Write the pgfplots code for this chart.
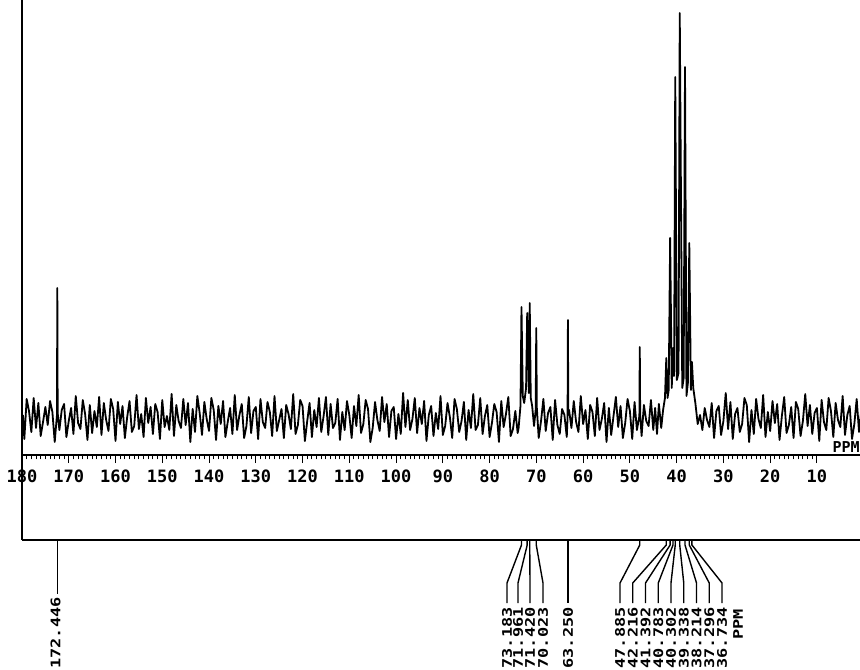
\documentclass[border=0pt]{standalone}
\usepackage{fontspec}
\setmonofont{DejaVu Sans Mono}
\newfontfamily\stretchmono{DejaVu Sans Mono}[FakeStretch=1.28]
\usepackage{pgfplots}
\pgfplotsset{compat=1.18}
\newcommand{\lbl}{\stretchmono\bfseries\fontsize{6.6}{7}\selectfont}
\newcommand{\ppmfont}{\ttfamily\bfseries\fontsize{7.5}{8}\selectfont}
\begin{document}
\begin{tikzpicture}
\path[use as bounding box] (0,0) rectangle (430pt,334.5pt);
\begin{axis}[
  at={(11pt,107pt)}, anchor=south west,
  scale only axis, width=419pt, height=227.5pt,
  xmin=0.79, xmax=180, ymin=-37, ymax=418,
  x dir=reverse,
  axis x line=bottom, axis y line=none,
  axis line style={-, line width=1pt},
  every outer x axis line/.append style={-},
  xtick={10,20,...,180}, minor x tick num=9,
  tick align=outside, major tick length=4pt, minor tick length=2.2pt,
  tick style={line width=0.5pt, black},
  ytick=\empty,
  /pgf/number format/assume math mode=true,
  xticklabel style={font=\ttfamily\bfseries\fontsize{8.5}{9}\selectfont},
]
\addplot[black, line width=0.9pt, line join=round] table[row sep=\\] {
x y\\
0.5 8\\ 1.0 -14\\ 1.5 19\\ 2.0 -6\\ 2.5 -21\\ 3.0 12\\ 3.5 3\\ 4.0 -17\\ 4.5 22\\ 5.0 -9\\
5.5 -2\\ 6.0 15\\ 6.5 -19\\ 7.0 7\\ 7.5 20\\ 8.0 -12\\ 8.5 -4\\ 9.0 18\\ 9.5 -23\\ 10.0 10\\
10.5 5\\ 11.0 -16\\ 11.5 13\\ 12.0 -8\\ 12.5 24\\ 13.0 -3\\ 13.5 -18\\ 14.0 9\\ 14.5 16\\ 15.0 -20\\
15.5 11\\ 16.0 -7\\ 16.5 -15\\ 17.0 21\\ 17.5 2\\ 18.0 -22\\ 18.5 14\\ 19.0 -5\\ 19.5 17\\ 20.0 -13\\
20.5 6\\ 21.0 -19\\ 21.5 23\\ 22.0 -10\\ 22.5 -1\\ 23.0 19\\ 23.5 -16\\ 24.0 8\\ 24.5 -24\\ 25.0 13\\
25.5 20\\ 26.0 -6\\ 26.5 -14\\ 27.0 10\\ 27.5 4\\ 28.0 -21\\ 28.5 16\\ 29.0 -11\\ 29.5 25\\ 30.0 -3\\
30.5 -17\\ 31.0 12\\ 31.5 7\\ 32.0 -20\\ 32.5 15\\ 33.0 -9\\ 33.5 -2\\ 34.0 10\\ 34.5 -12\\ 35.0 3\\
35.5 -6\\ 36.0 15\\ 36.45 30\\ 36.734 56\\ 36.95 28\\ 37.296 175\\ 37.6 35\\ 37.9 22\\ 38.214 351\\ 38.5 40\\ 38.8 30\\ 39.338 405\\ 39.6 45\\ 39.95 38\\ 40.302 341\\ 40.55 42\\ 40.783 70\\ 41.05 30\\ 41.392 180\\ 41.7 28\\ 41.95 20\\ 42.216 60\\ 42.5 20\\ 42.9 8\\ 43.3 -10\\
43.8 14\\ 44.2 -16\\ 44.6 10\\ 45.0 -12\\
45.5 18\\ 46.0 -8\\ 46.5 -3\\ 47.0 13\\ 47.5 -18\\ 47.8 4\\ 47.885 71\\ 47.97 2\\ 48.5 -12\\ 49.0 16\\ 49.5 -21\\ 50.0 7\\
50.5 19\\ 51.0 -5\\ 51.5 -20\\ 52.0 12\\ 52.5 -9\\ 53.0 21\\ 53.5 2\\ 54.0 -17\\ 54.5 10\\ 55.0 -24\\
55.5 15\\ 56.0 -1\\ 56.5 -12\\ 57.0 20\\ 57.5 -18\\ 58.0 6\\ 58.5 13\\ 59.0 -21\\ 59.5 8\\ 60.0 -6\\
60.5 22\\ 61.0 -14\\ 61.5 -4\\ 62.0 17\\ 62.5 -10\\ 63.0 8\\ 63.17 3\\ 63.25 98\\ 63.33 0\\ 63.5 -19\\ 64.0 3\\ 64.5 9\\ 65.0 -16\\
65.5 -7\\ 66.0 18\\ 66.5 -22\\ 67.0 11\\ 67.5 5\\ 68.0 -13\\ 68.5 19\\ 69.0 -3\\ 69.5 -20\\ 69.9 10\\ 70.023 90\\ 70.15 8\\
70.5 -8\\ 70.9 12\\ 71.2 20\\ 71.42 115\\ 71.6 25\\ 71.961 105\\ 72.2 30\\ 72.6 15\\ 72.9 22\\ 73.183 111\\ 73.4 12\\ 73.8 -10\\ 74.0 -15\\ 74.5 7\\ 75.0 -11\\
75.5 -18\\ 76.0 21\\ 76.5 4\\ 77.0 -9\\ 77.5 17\\ 78.0 -24\\ 78.5 6\\ 79.0 14\\ 79.5 -5\\ 80.0 -19\\
80.5 13\\ 81.0 2\\ 81.5 -16\\ 82.0 20\\ 82.5 -7\\ 83.0 -12\\ 83.5 24\\ 84.0 -10\\ 84.5 8\\ 85.0 -22\\
85.5 16\\ 86.0 -3\\ 86.5 -14\\ 87.0 9\\ 87.5 19\\ 88.0 -20\\ 88.5 1\\ 89.0 15\\ 89.5 -8\\ 90.0 -17\\
90.5 22\\ 91.0 -11\\ 91.5 5\\ 92.0 -18\\ 92.5 12\\ 93.0 3\\ 93.5 -23\\ 94.0 17\\ 94.5 -6\\ 95.0 10\\
95.5 -15\\ 96.0 20\\ 96.5 -1\\ 97.0 -12\\ 97.5 18\\ 98.0 -9\\ 98.5 25\\ 99.0 -16\\ 99.5 4\\ 100.0 -21\\
100.5 11\\ 101.0 7\\ 101.5 -19\\ 102.0 14\\ 102.5 -4\\ 103.0 21\\ 103.5 -13\\ 104.0 -2\\ 104.5 16\\ 105.0 -10\\
105.5 -24\\ 106.0 9\\ 106.5 18\\ 107.0 -6\\ 107.5 -15\\ 108.0 23\\ 108.5 -8\\ 109.0 12\\ 109.5 -20\\ 110.0 3\\
110.5 17\\ 111.0 -12\\ 111.5 6\\ 112.0 -22\\ 112.5 19\\ 113.0 -5\\ 113.5 -10\\ 114.0 14\\ 114.5 -17\\ 115.0 21\\
115.5 2\\ 116.0 -14\\ 116.5 20\\ 117.0 -9\\ 117.5 8\\ 118.0 -19\\ 118.5 15\\ 119.0 -3\\ 119.5 -23\\ 120.0 12\\
120.5 18\\ 121.0 -7\\ 121.5 -16\\ 122.0 24\\ 122.5 -11\\ 123.0 4\\ 123.5 13\\ 124.0 -20\\ 124.5 9\\ 125.0 -2\\
125.5 -13\\ 126.0 22\\ 126.5 -18\\ 127.0 6\\ 127.5 16\\ 128.0 -10\\ 128.5 -4\\ 129.0 19\\ 129.5 -21\\ 130.0 11\\
130.5 7\\ 131.0 -15\\ 131.5 21\\ 132.0 -8\\ 132.5 -20\\ 133.0 14\\ 133.5 3\\ 134.0 -12\\ 134.5 23\\ 135.0 -16\\
135.5 10\\ 136.0 -4\\ 136.5 -19\\ 137.0 17\\ 137.5 -6\\ 138.0 12\\ 138.5 -22\\ 139.0 8\\ 139.5 20\\ 140.0 -13\\
140.5 -1\\ 141.0 16\\ 141.5 -17\\ 142.0 5\\ 142.5 22\\ 143.0 -14\\ 143.5 9\\ 144.0 -24\\ 144.5 15\\ 145.0 -7\\
145.5 19\\ 146.0 -10\\ 146.5 -3\\ 147.0 13\\ 147.5 -18\\ 148.0 24\\ 148.5 -12\\ 149.0 2\\ 149.5 -9\\ 150.0 18\\
150.5 -21\\ 151.0 6\\ 151.5 14\\ 152.0 -16\\ 152.5 11\\ 153.0 -5\\ 153.5 20\\ 154.0 -19\\ 154.5 4\\ 155.0 -11\\
155.5 23\\ 156.0 -8\\ 156.5 -14\\ 157.0 17\\ 157.5 1\\ 158.0 -20\\ 158.5 12\\ 159.0 -6\\ 159.5 16\\ 160.0 -23\\
160.5 9\\ 161.0 19\\ 161.5 -13\\ 162.0 -2\\ 162.5 15\\ 163.0 -17\\ 163.5 21\\ 164.0 -9\\ 164.5 7\\ 165.0 -15\\
165.5 13\\ 166.0 -22\\ 166.5 4\\ 167.0 18\\ 167.5 -11\\ 168.0 -5\\ 168.5 22\\ 169.0 -16\\ 169.5 10\\ 170.0 -3\\
170.5 -19\\ 171.0 14\\ 171.5 8\\ 172.0 -12\\ 172.37 5\\ 172.446 130\\ 172.52 3\\ 173.0 -24\\ 173.5 6\\ 174.0 17\\ 174.5 -7\\ 175.0 11\\
175.5 -4\\ 176.0 -18\\ 176.5 15\\ 177.0 -10\\ 177.5 20\\ 178.0 -14\\ 178.5 7\\ 179.0 19\\ 179.5 -21\\ 179.8 3\\
};
\node[anchor=south east, inner sep=0pt, font=\ppmfont] at (axis cs:0.79,-35) {PPM};
\end{axis}
\begin{axis}[
  at={(11pt,0pt)}, anchor=south west,
  scale only axis, width=419pt, height=334.5pt,
  xmin=0.79, xmax=180, ymin=0, ymax=669,
  x dir=reverse, hide axis, clip=false,
]
\draw[line width=0.75pt] (axis cs:180,669) -- (axis cs:180,129);
\draw[line width=1pt] (axis cs:180,129) -- (axis cs:0.79,129);
\begin{scope}[line width=0.7pt]
\draw (axis cs:172.446,129) -- (axis cs:172.446,75);
\draw (axis cs:73.183,129) -- (axis cs:73.183,124) -- (axis cs:76.28,86) -- (axis cs:76.28,66);
\draw (axis cs:71.961,129) -- (axis cs:71.961,124) -- (axis cs:73.93,86) -- (axis cs:73.93,66);
\draw (axis cs:71.420,129) -- (axis cs:71.420,124) -- (axis cs:71.36,86) -- (axis cs:71.36,66);
\draw (axis cs:70.023,129) -- (axis cs:70.023,124) -- (axis cs:68.58,86) -- (axis cs:68.58,66);
\draw (axis cs:63.25,129) -- (axis cs:63.25,66);
\draw (axis cs:47.885,129) -- (axis cs:47.885,124) -- (axis cs:52.11,86) -- (axis cs:52.11,66);
\draw (axis cs:42.216,129) -- (axis cs:42.216,124) -- (axis cs:49.39,86) -- (axis cs:49.39,66);
\draw (axis cs:41.392,129) -- (axis cs:41.392,124) -- (axis cs:46.66,86) -- (axis cs:46.66,66);
\draw (axis cs:40.783,129) -- (axis cs:40.783,124) -- (axis cs:43.93,86) -- (axis cs:43.93,66);
\draw (axis cs:40.302,129) -- (axis cs:40.302,124) -- (axis cs:41.21,86) -- (axis cs:41.21,66);
\draw (axis cs:39.338,129) -- (axis cs:39.338,124) -- (axis cs:38.48,86) -- (axis cs:38.48,66);
\draw (axis cs:38.214,129) -- (axis cs:38.214,124) -- (axis cs:35.75,86) -- (axis cs:35.75,66);
\draw (axis cs:37.296,129) -- (axis cs:37.296,124) -- (axis cs:33.03,86) -- (axis cs:33.03,66);
\draw (axis cs:36.734,129) -- (axis cs:36.734,124) -- (axis cs:30.30,86) -- (axis cs:30.30,66);
\end{scope}
\begin{scope}[every node/.style={rotate=90, anchor=east, inner sep=0pt, font=\lbl}]
\node at (axis cs:172.8,72) {172.446};
\node at (axis cs:76.28,62) {73.183};
\node at (axis cs:73.93,62) {71.961};
\node at (axis cs:71.36,62) {71.420};
\node at (axis cs:68.58,62) {70.023};
\node at (axis cs:63.23,62) {63.250};
\node at (axis cs:52.11,62) {47.885};
\node at (axis cs:49.39,62) {42.216};
\node at (axis cs:46.66,62) {41.392};
\node at (axis cs:43.93,62) {40.783};
\node at (axis cs:41.21,62) {40.302};
\node at (axis cs:38.48,62) {39.338};
\node at (axis cs:35.75,62) {38.214};
\node at (axis cs:33.03,62) {37.296};
\node at (axis cs:30.30,62) {36.734};
\node at (axis cs:26.88,60) {PPM};
\end{scope}
\end{axis}
\end{tikzpicture}
\end{document}
